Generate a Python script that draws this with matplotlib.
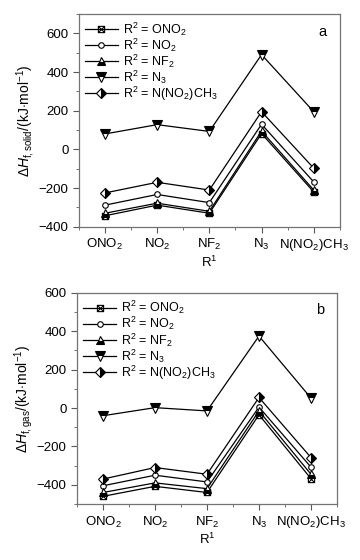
import numpy as np
import matplotlib
matplotlib.use('Agg')
import matplotlib.pyplot as plt
from matplotlib.path import Path
from matplotlib.ticker import MultipleLocator

plt.rcParams['font.family'] = ['Liberation Sans', 'DejaVu Sans']
plt.rcParams['mathtext.fontset'] = 'custom'
plt.rcParams['mathtext.rm'] = 'Liberation Sans'
plt.rcParams['mathtext.it'] = 'Liberation Sans:italic'
plt.rcParams['mathtext.bf'] = 'Liberation Sans:bold'

r1_labels = ['ONO$_2$', 'NO$_2$', 'NF$_2$', 'N$_3$', 'N(NO$_2$)CH$_3$']
r2_labels = ['R$^2$ = ONO$_2$', 'R$^2$ = NO$_2$', 'R$^2$ = NF$_2$',
             'R$^2$ = N$_3$', 'R$^2$ = N(NO$_2$)CH$_3$']

# heat of formation, solid (panel a)
solid_ono2 = [-343, -288, -330, 82, -220]
solid_no2 = [-288, -233, -275, 130, -168]
solid_nf2 = [-330, -278, -320, 95, -210]
solid_n3 = [80, 128, 93, 490, 195]
solid_nnc = [-225, -170, -210, 195, -97]

# heat of formation, gas (panel b)
gas_ono2 = [-460, -408, -440, -35, -368]
gas_no2 = [-405, -350, -385, 5, -308]
gas_nf2 = [-440, -390, -420, -15, -345]
gas_n3 = [-40, 2, -15, 375, 52]
gas_nnc = [-370, -310, -345, 55, -258]

# square with a cross inside
boxx = Path([(-1, -1), (1, -1), (1, 1), (-1, 1), (-1, -1),
             (-1, -1), (1, 1), (-1, 1), (1, -1)],
            [Path.MOVETO, Path.LINETO, Path.LINETO, Path.LINETO, Path.CLOSEPOLY,
             Path.MOVETO, Path.LINETO, Path.MOVETO, Path.LINETO])

styles = [
    dict(marker=boxx, ms=4.5, mfc='none'),
    dict(marker='o', ms=4, mfc='white'),
    dict(marker='^', ms=6, fillstyle='bottom', mfc='black', mfcalt='white'),
    dict(marker='v', ms=6.5, fillstyle='top', mfc='black', mfcalt='white'),
    dict(marker='D', ms=5, fillstyle='right', mfc='black', mfcalt='white'),
]

x = np.arange(1, 6)

fig = plt.figure(figsize=(3.6, 5.6), dpi=100)
ax1 = fig.add_axes([0.219, 0.595, 0.725, 0.380])
ax2 = fig.add_axes([0.214, 0.100, 0.722, 0.377])


def draw(ax, series, ylim, ylabel, tag):
    for vals, lab, st in zip(series, r2_labels, styles):
        ax.plot(x, vals, color='black', lw=0.9, mec='black', mew=0.8,
                label=lab, **st)
    ax.set_xlim(0.5, 5.5)
    ax.set_ylim(*ylim)
    ax.set_xticks(x)
    ax.set_xticklabels(r1_labels)
    ax.xaxis.set_minor_locator(MultipleLocator(0.5))
    ax.yaxis.set_major_locator(MultipleLocator(200))
    ax.yaxis.set_minor_locator(MultipleLocator(100))
    ax.tick_params(which='both', direction='out', top=False, right=False,
                   labelsize=9.5, color='0.35')
    ax.tick_params(which='major', length=4)
    ax.tick_params(which='minor', length=2)
    for s in ax.spines.values():
        s.set_color('0.45')
        s.set_linewidth(0.9)
    ax.set_xlabel('R$^1$', fontsize=9.5, labelpad=1)
    ax.set_ylabel(ylabel, fontsize=10, labelpad=1)
    ax.text(0.95, 0.95, tag, transform=ax.transAxes, ha='right', va='top',
            fontsize=10.5)
    ax.legend(loc='upper left', frameon=False, fontsize=9, handlelength=2.6,
              labelspacing=-0.1, handletextpad=0.4, borderaxespad=0.3,
              borderpad=0.2)


draw(ax1, [solid_ono2, solid_no2, solid_nf2, solid_n3, solid_nnc],
     (-400, 700), r'$\Delta H_{\mathrm{f,solid}}$/(kJ$\cdot$mol$^{-1}$)', 'a')
draw(ax2, [gas_ono2, gas_no2, gas_nf2, gas_n3, gas_nnc],
     (-500, 600), r'$\Delta H_{\mathrm{f,gas}}$/(kJ$\cdot$mol$^{-1}$)', 'b')

fig.savefig('out.png', dpi=100)
